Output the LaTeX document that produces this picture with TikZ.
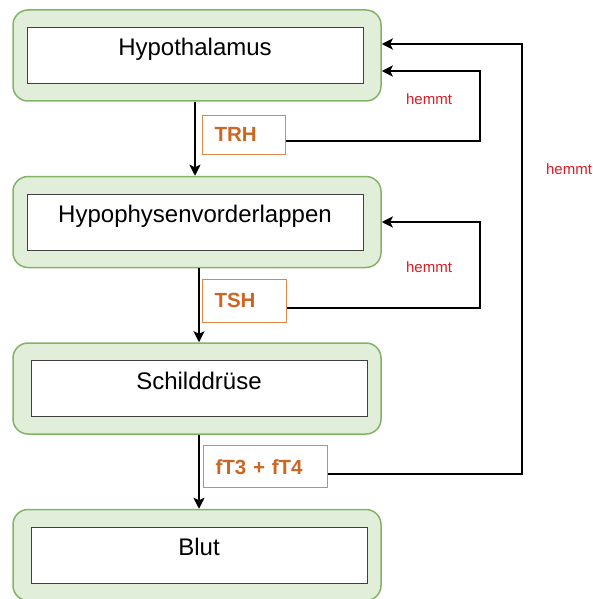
\documentclass[tikz,border=0pt]{standalone}
\usepackage{fontspec}
\setmainfont{Liberation Sans}
\usetikzlibrary{positioning,arrows.meta}
\definecolor{grpfill}{HTML}{E1EED9}
\definecolor{grpdraw}{HTML}{82B366}
\definecolor{hormtext}{HTML}{CC6622}
\definecolor{hormdraw}{HTML}{E0884A}
\definecolor{hemmred}{HTML}{DD1A22}

\begin{document}
\begin{tikzpicture}
		[x=1pt,y=1pt,node distance=166.5pt,on grid,
		grp/.style={draw=grpdraw,fill=grpfill,line width=1.5pt,rounded corners=15pt,minimum width=368pt,minimum height=91pt},
		organ/.style={draw=black!75,fill=white,line width=1pt,minimum width=336pt,minimum height=56pt,text height=11pt,text depth=10pt,font=\fontsize{24}{28}\selectfont},
		hormon/.style={draw=hormdraw,fill=white,line width=1pt,anchor=north west,align=left,inner xsep=12pt,text=hormtext,font=\fontsize{20.5}{24}\selectfont\bfseries},
		flow/.style={-{Stealth[length=11pt,width=11pt,inset=2.5pt]},line width=1.8pt},
		hemm/.style={-{Stealth[length=11pt,width=11pt,inset=2.5pt]},line width=2.3pt},
		hemmlbl/.style={text=hemmred,font=\fontsize{15}{18}\selectfont}]
		\useasboundingbox (0,0) rectangle (593,-599);
		% Organe
		\node[grp] (hypo) at (197,-55.5) {};
		\node[grp] (hvl) [below=of hypo] {};
		\node[grp] (sd) [below=of hvl] {};
		\node[grp] (blut) [below=of sd] {};
		\node[organ] (hypo-in) at ([xshift=-2pt]hypo) {Hypothalamus};
		\node[organ] (hvl-in) at ([xshift=-2pt]hvl) {Hypophysenvorderlappen};
		\node[organ] (sd-in) at ([xshift=2pt]sd) {Schilddrüse};
		\node[organ] (blut-in) at ([xshift=2pt]blut) {Blut};
		% Hormone
		\path[flow] 
		(hypo.south -| hypo-in) edge (hvl.north -| hypo-in)
		(hvl.south -| sd-in) edge (sd.north -| sd-in)
		(sd.south -| sd-in) edge (blut.north -| sd-in);
		\node[hormon,text width=59pt,minimum height=39pt] (trh) at ([xshift=5pt,yshift=-13pt]hypo.south) {TRH};
		\node[hormon,text width=60pt,minimum height=43pt] (tsh) at ([xshift=5pt,yshift=-10.5pt]hvl.south) {TSH};
		\node[hormon,text width=100pt,minimum height=42pt] (ft) at ([xshift=6pt,yshift=-10.5pt]sd.south) {fT3 + fT4};
		% Rueckkopplung
		\coordinate (k1) at (480,-71);
		\coordinate (k2) at (480,-222);
		\coordinate (k3) at (522,-44);
		\draw[hemm] ([yshift=-6.5pt]trh.east) -| (k1) -- (k1 -| hypo.east);
		\draw[hemm] ([yshift=-7.5pt]tsh.east) -| (k2) -- (k2 -| hvl.east);
		\draw[hemm] ([yshift=-7pt]ft.east) -| (k3) -- (k3 -| hypo.east);
		\node[hemmlbl] (h1) at (429,-99) {hemmt};
		\node[hemmlbl] (h2) at (429,-267) {hemmt};
		\node[hemmlbl] (h3) at (569,-169) {hemmt};
		\end{tikzpicture}
\end{document}
